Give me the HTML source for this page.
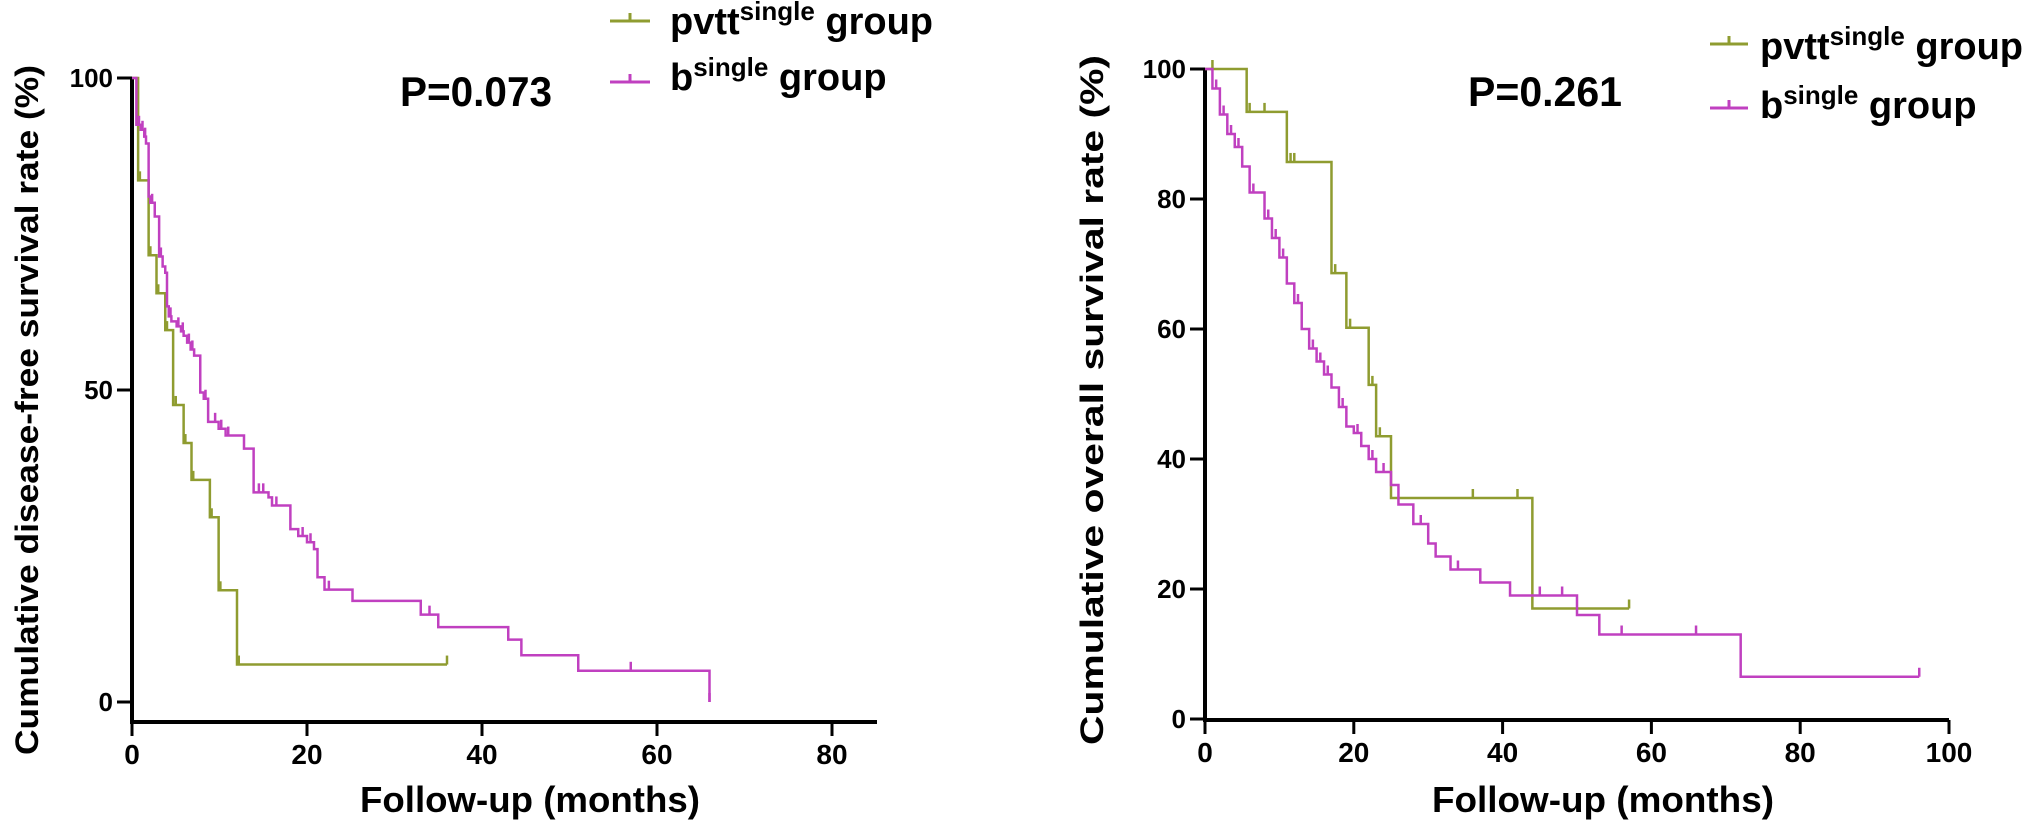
<!DOCTYPE html>
<html><head><meta charset="utf-8"><style>
body{margin:0;background:#fff;}
svg{display:block;font-family:"Liberation Sans",Arial,sans-serif;font-weight:bold;}
</style></head><body>
<svg id="chart" width="2031" height="831" viewBox="0 0 2031 831" xmlns="http://www.w3.org/2000/svg">
<g id="left"></g>
<g id="right"></g>
<text x="0" y="0" transform="translate(38,410) rotate(-90)" text-anchor="middle" font-size="32" textLength="690" lengthAdjust="spacingAndGlyphs">Cumulative disease-free survival rate (%)</text>
<text x="0" y="0" transform="translate(1103,400) rotate(-90)" text-anchor="middle" font-size="32" textLength="690" lengthAdjust="spacingAndGlyphs">Cumulative overall survival rate (%)</text>
<text x="530" y="812" text-anchor="middle" font-size="36" textLength="340" lengthAdjust="spacingAndGlyphs">Follow-up (months)</text>
<text x="1603" y="812" text-anchor="middle" font-size="36" textLength="342" lengthAdjust="spacingAndGlyphs">Follow-up (months)</text>
<text x="400" y="106" font-size="42" textLength="152" lengthAdjust="spacingAndGlyphs">P=0.073</text>
<text x="1468" y="106" font-size="42" textLength="154" lengthAdjust="spacingAndGlyphs">P=0.261</text>
<g>
 <g><line x1="610" y1="21" x2="650" y2="21" stroke="#8f9c30" stroke-width="3"/><line x1="630" y1="13" x2="630" y2="21" stroke="#8f9c30" stroke-width="3"/>
 <text x="670" y="34" font-size="38">pvtt<tspan font-size="26" dy="-14">single</tspan><tspan dy="14"> group</tspan></text></g>
 <g><line x1="610" y1="82" x2="650" y2="82" stroke="#c040c0" stroke-width="3"/><line x1="630" y1="74" x2="630" y2="82" stroke="#c040c0" stroke-width="3"/>
 <text x="670" y="90" font-size="38">b<tspan font-size="26" dy="-14">single</tspan><tspan dy="14">  group</tspan></text></g>
</g>
<g>
 <g><line x1="1710" y1="44" x2="1748" y2="44" stroke="#8f9c30" stroke-width="3"/><line x1="1729" y1="36" x2="1729" y2="44" stroke="#8f9c30" stroke-width="3"/>
 <text x="1760" y="59" font-size="38">pvtt<tspan font-size="26" dy="-14">single</tspan><tspan dy="14"> group</tspan></text></g>
 <g><line x1="1710" y1="108" x2="1748" y2="108" stroke="#c040c0" stroke-width="3"/><line x1="1729" y1="100" x2="1729" y2="108" stroke="#c040c0" stroke-width="3"/>
 <text x="1760" y="118" font-size="38">b<tspan font-size="26" dy="-14">single</tspan><tspan dy="14">  group</tspan></text></g>
</g>
</svg>
<script>
// Left chart (DFS) data
const dfsPvttTimes=[0.7,1.9,2.8,3.8,4.7,5.9,6.8,8.9,9.9,12.0];
const dfsPvttSurv=[83.6,71.6,65.5,59.6,47.6,41.5,35.6,29.6,17.9,6.0];
const dfsPvttEnd=36;
const dfsPvttCensor=[0.9,2.1,3.0,4.0,5.0,6.1,7.0,9.1,10.1,12.2,36];
const dfsBTimes=[0.5,1.0,1.4,1.6,1.9,2.1,2.6,3.1,3.5,3.8,4.0,4.2,4.5,5.1,5.6,5.9,6.3,6.7,7.1,7.8,8.2,8.7,9.9,10.7,12.8,13.9,15.6,16.0,18.1,19.0,20.0,20.8,21.2,22.0,25.2,33.0,35.0,43.0,44.5,51.0,66.0];
const dfsBSurv=[92.5,91.7,90.6,89.5,81,80,77.8,71.4,69.8,68.8,63.4,61.8,61,60.2,59.4,58.7,57.6,56.5,55.5,49.6,48.6,44.9,43.8,42.7,40.6,33.6,32.8,31.5,27.7,26.6,25.6,24.5,20,18,16.2,14,12,10,7.5,5,0];
const dfsBEnd=66;
const dfsBCensor=[0.8,1.2,1.5,2.3,3.3,4.4,5.3,5.8,6.5,6.9,8.4,9.5,10.2,11.0,14.5,15.0,16.5,19.5,20.4,22.5,34.0,57.0,66.0];
// Right chart (OS) data
const osPvttTimes=[5.6,11,17,19,22,23,25,44];
const osPvttSurv=[93.4,85.7,68.6,60.2,51.4,43.5,34,17];
const osPvttEnd=57;
const osPvttCensor=[1,6,8,11.5,12,17.5,19.5,22.5,23.5,36,42,57];
const osBTimes=[1,2,3,4,5,6,8,9,10,11,12,13,14,15,16,17,18,19,20,21,22,23,25,26,28,30,31,33,37,41,50,53,72];
const osBSurv=[97,93,90,88,85,81,77,74,71,67,64,60,57,55,53,51,48,45,44,42,40,38,36,33,30,27,25,23,21,19,16,13,6.5];
const osBEnd=96;
const osBCensor=[1.5,2.5,3.5,4.5,6.5,8.5,9.5,10.5,12.5,14.5,15.5,16.5,18.5,20.5,22.5,24,29,34,45,48,56,66,96];
const dfsXTicks=[0,20,40,60,80];
const dfsYTicks=[0,50,100];
const osXTicks=[0,20,40,60,80,100];
const osYTicks=[0,20,40,60,80,100];

const NS="http://www.w3.org/2000/svg";
function mk(tag,attrs,parent){const e=document.createElementNS(NS,tag);for(const k in attrs)e.setAttribute(k,attrs[k]);parent.appendChild(e);return e;}

function stepPath(times,surv,end,xs,ys){
  let d="M"+xs(0)+","+ys(100);
  for(let i=0;i<times.length;i++){d+=" H"+xs(times[i])+" V"+ys(surv[i]);}
  const last=times.length?times[times.length-1]:0;
  if(end>last)d+=" H"+xs(end);
  return d;
}
function survAt(times,surv,t){let s=100;for(let i=0;i<times.length;i++){if(times[i]<=t)s=surv[i];}return s;}

function drawChart(g,cfg){
  const xs=v=>cfg.x0+v*cfg.xk, ys=v=>cfg.y0-v*cfg.yk;
  const ya=mk('line',{x1:cfg.x0,y1:ys(100),x2:cfg.x0,y2:cfg.xAxisY,stroke:'#000','stroke-width':4},g);
  
  
  const xa=mk('line',{x1:cfg.x0-2,y1:cfg.xAxisY,x2:cfg.xEnd,y2:cfg.xAxisY,stroke:'#000','stroke-width':4},g);
  
  
  cfg.yTicks.forEach(v=>{
    const t=mk('line',{x1:cfg.x0-15,y1:ys(v),x2:cfg.x0,y2:ys(v),stroke:'#000','stroke-width':3},g);
    
    
    const l=mk('text',{x:cfg.x0-19,y:ys(v)+9,'text-anchor':'end','font-size':26},g);
    
    
    l.textContent=v;
  });
  cfg.xTicks.forEach(v=>{
    const t=mk('line',{x1:xs(v),y1:cfg.xAxisY,x2:xs(v),y2:cfg.xAxisY+14,stroke:'#000','stroke-width':3},g);
    
    
    const l=mk('text',{x:xs(v),y:cfg.xAxisY+42,'text-anchor':'middle','font-size':28},g);
    
    
    l.textContent=v;
  });
  cfg.series.forEach(s=>{
    const p=mk('path',{d:stepPath(s.times,s.surv,s.end,xs,ys),fill:'none',stroke:s.color,'stroke-width':2.5},g);
    
    
    s.censor.forEach(c=>{
      const sv=survAt(s.times,s.surv,c);
      const m=mk('line',{x1:xs(c),y1:ys(sv)-9,x2:xs(c),y2:ys(sv),stroke:s.color,'stroke-width':2.5},g);
      
      
    });
  });
}
drawChart(document.getElementById('left'),{x0:132,xk:8.75,y0:702,yk:6.24,xAxisY:722,xEnd:877,xTicks:dfsXTicks,yTicks:dfsYTicks,
  series:[{name:'pvtt-dfs-curve',times:dfsPvttTimes,surv:dfsPvttSurv,end:dfsPvttEnd,censor:dfsPvttCensor,color:'#8f9c30'},
          {name:'b-dfs-curve',times:dfsBTimes,surv:dfsBSurv,end:dfsBEnd,censor:dfsBCensor,color:'#c040c0'}]});
drawChart(document.getElementById('right'),{x0:1205,xk:7.44,y0:719,yk:6.5,xAxisY:720,xEnd:1949,xTicks:osXTicks,yTicks:osYTicks,
  series:[{name:'pvtt-os-curve',times:osPvttTimes,surv:osPvttSurv,end:osPvttEnd,censor:osPvttCensor,color:'#8f9c30'},
          {name:'b-os-curve',times:osBTimes,surv:osBSurv,end:osBEnd,censor:osBCensor,color:'#c040c0'}]});
</script>
</body></html>
